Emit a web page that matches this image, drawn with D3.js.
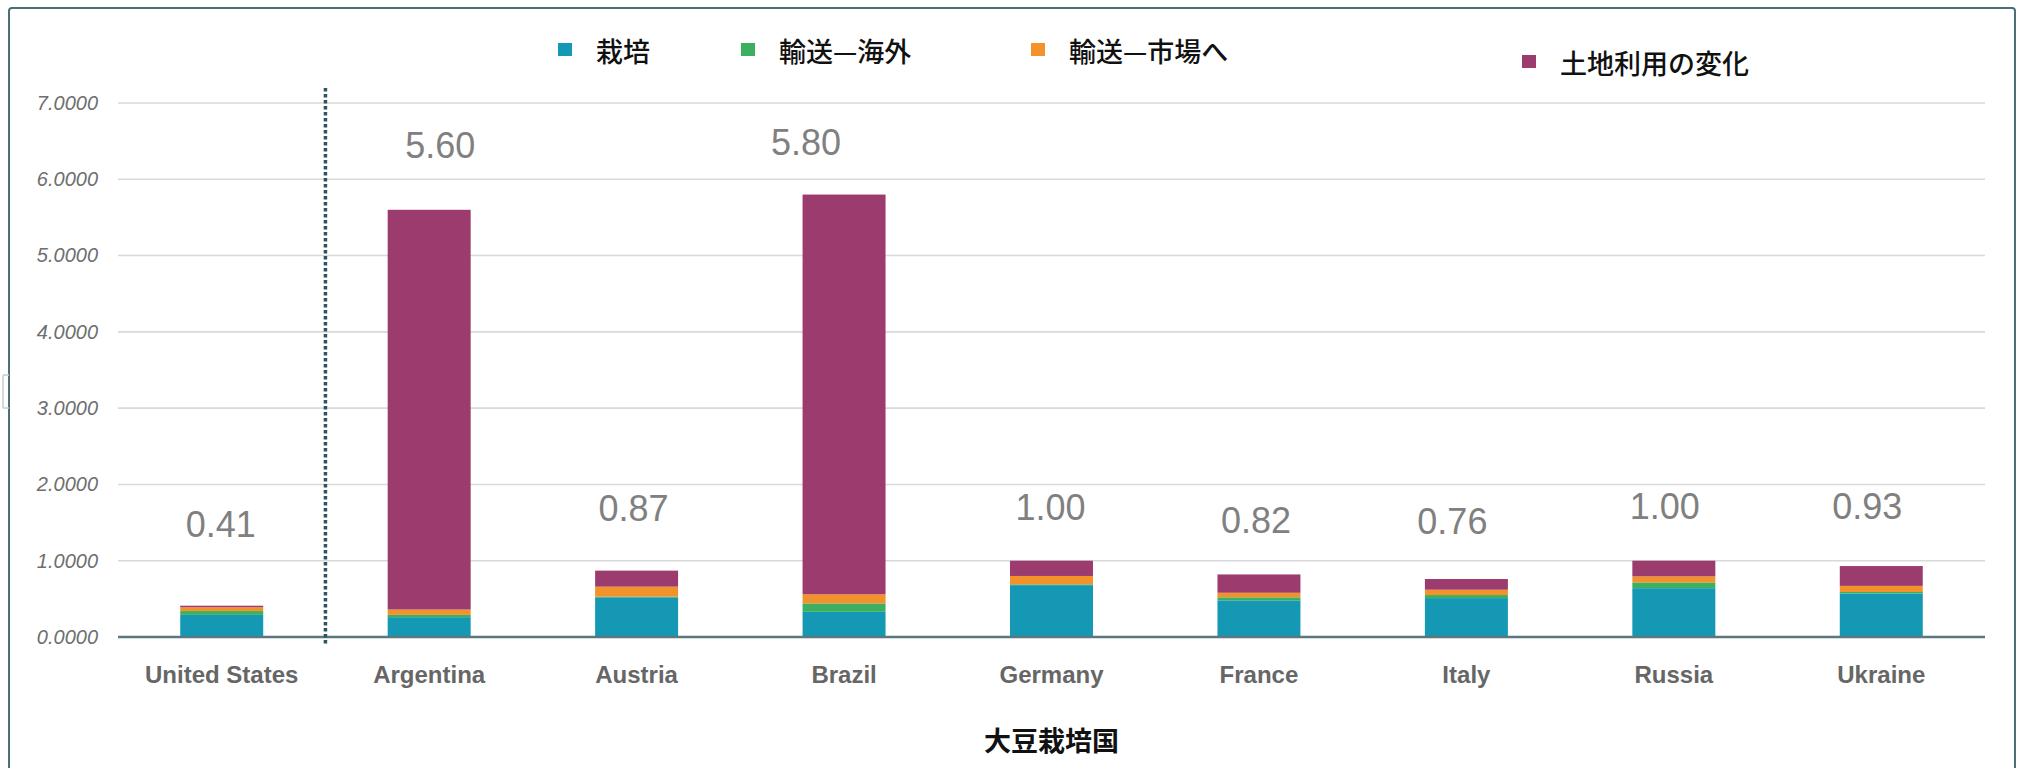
<!DOCTYPE html>
<html>
<head>
<meta charset="utf-8">
<script src="https://cdn.jsdelivr.net/npm/d3@7"></script>
<style>
  html, body { margin: 0; padding: 0; background: #ffffff; }
  svg { display: block; }
</style>
</head>
<body>
<svg id="chart" width="2018" height="768"></svg>
<script>
// Soybean footprint by producing country, stacked by source
const countries = ["United States", "Argentina", "Austria", "Brazil", "Germany", "France", "Italy", "Russia", "Ukraine"];
const seriesNames = ["栽培", "輸送—海外", "輸送—市場へ", "土地利用の変化"];
const cultivation   = [0.29, 0.26, 0.52, 0.33, 0.68, 0.48, 0.51, 0.64, 0.57];
const shipOverseas  = [0.05, 0.03, 0.01, 0.11, 0.01, 0.04, 0.04, 0.075, 0.02];
const shipToMarket  = [0.05, 0.07, 0.13, 0.12, 0.11, 0.06, 0.07, 0.08, 0.08];
const landUseChange = [0.02, 5.24, 0.21, 5.24, 0.20, 0.24, 0.14, 0.205, 0.26];
const totalLabels   = ["0.41", "5.60", "0.87", "5.80", "1.00", "0.82", "0.76", "1.00", "0.93"];
const yTicks = [0, 1, 2, 3, 4, 5, 6, 7];
const axisTitle = "大豆栽培国";

// label placement nudges (dx from band centre, dy above the bar top)
const labelNudge = [[-1, -69], [11, -52], [-3, -50], [-38, -40], [-1, -41], [-3, -41], [-14, -45], [-9, -42], [-14, -47]];

const colors = ["#1598b4", "#3daf61", "#f3912a", "#9b3b6e"];

const svg = d3.select("#chart");

const x = d3.scaleBand()
  .domain(countries)
  .range([118, 1985])
  .paddingInner(0.6)
  .paddingOuter(0.3);

const y = d3.scaleLinear().domain([0, 7]).range([637, 103]);

const color = d3.scaleOrdinal().domain(seriesNames).range(colors);

// frame
svg.append("rect")
  .attr("x", 9).attr("y", 8)
  .attr("width", 2006).attr("height", 800)
  .attr("rx", 3)
  .attr("fill", "#ffffff")
  .attr("stroke", "#4d6e76")
  .attr("stroke-width", 2);

// small tab on the left edge
svg.append("path")
  .attr("d", "M3,375 L9,375 M3,408 L9,408 M3,375 L3,408")
  .attr("fill", "none")
  .attr("stroke", "#c8cdd0")
  .attr("stroke-width", 1.5);

// gridlines + y labels
svg.append("g")
  .selectAll("line")
  .data(yTicks.filter(d => d > 0))
  .join("line")
  .attr("x1", 118).attr("x2", 1985)
  .attr("y1", d => y(d)).attr("y2", d => y(d))
  .attr("stroke", "#d9d9d9")
  .attr("stroke-width", 1.6);

const yAxis = d3.axisLeft(y).tickValues(yTicks).tickFormat(d3.format(".4f")).tickSize(0).tickPadding(0);
const yg = svg.append("g").attr("transform", "translate(98,0)").call(yAxis);
yg.select(".domain").remove();
yg.selectAll("text")
  .attr("font-family", "'Liberation Sans', Arial, sans-serif")
  .attr("font-style", "italic")
  .attr("font-size", 20)
  .attr("fill", "#6e6e6e");

// stacked bars
const rows = countries.map((c, i) => ({
  country: c,
  [seriesNames[0]]: cultivation[i],
  [seriesNames[1]]: shipOverseas[i],
  [seriesNames[2]]: shipToMarket[i],
  [seriesNames[3]]: landUseChange[i]
}));
const stacked = d3.stack().keys(seriesNames)(rows);

svg.append("g")
  .selectAll("g")
  .data(stacked)
  .join("g")
  .attr("fill", d => color(d.key))
  .selectAll("rect")
  .data(d => d)
  .join("rect")
  .attr("x", d => x(d.data.country))
  .attr("width", x.bandwidth())
  .attr("y", d => y(d[1]))
  .attr("height", d => y(d[0]) - y(d[1]));

// x axis
const xAxis = d3.axisBottom(x).tickSize(0).tickPadding(0);
const xg = svg.append("g").attr("transform", "translate(0,637)").call(xAxis);
xg.select(".domain").remove();
xg.selectAll("text")
  .attr("dy", null)
  .attr("y", 46)
  .attr("font-family", "'Liberation Sans', Arial, sans-serif")
  .attr("font-weight", "bold")
  .attr("font-size", 24)
  .attr("fill", "#666666");
svg.append("line")
  .attr("x1", 118).attr("x2", 1985)
  .attr("y1", y(0)).attr("y2", y(0))
  .attr("stroke", "#5b7880")
  .attr("stroke-width", 2.5);

// dotted separator after the first country
const sepX = (x("United States") + x.bandwidth() + x("Argentina")) / 2;
svg.append("line")
  .attr("x1", sepX).attr("x2", sepX)
  .attr("y1", 88).attr("y2", 645)
  .attr("stroke", "#2d5560")
  .attr("stroke-width", 3.5)
  .attr("stroke-dasharray", "3.5,2.5");

// total labels
const totals = countries.map((c, i) => cultivation[i] + shipOverseas[i] + shipToMarket[i] + landUseChange[i]);
svg.append("g")
  .selectAll("text")
  .data(countries)
  .join("text")
  .attr("x", (c, i) => x(c) + x.bandwidth() / 2 + labelNudge[i][0])
  .attr("y", (c, i) => y(totals[i]) + labelNudge[i][1])
  .attr("text-anchor", "middle")
  .attr("font-family", "'Liberation Sans', Arial, sans-serif")
  .attr("font-size", 36)
  .attr("fill", "#808080")
  .text((c, i) => totalLabels[i]);

// legend
const legendPos = [[558, 43], [741, 43], [1031, 43], [1522, 55]];
const lg = svg.append("g")
  .selectAll("g")
  .data(seriesNames)
  .join("g")
  .attr("transform", (d, i) => `translate(${legendPos[i][0]},${legendPos[i][1]})`);
lg.append("rect")
  .attr("width", 14).attr("height", 13)
  .attr("fill", d => color(d));
lg.append("text")
  .attr("x", 38).attr("y", 7)
  .attr("dominant-baseline", "central")
  .attr("font-family", "'Noto Sans CJK JP', sans-serif")
  .attr("font-weight", 500)
  .attr("font-size", 27)
  .attr("fill", "#111111")
  .text(d => d);

// axis title
svg.append("text")
  .attr("x", (x.range()[0] + x.range()[1]) / 2)
  .attr("y", 739)
  .attr("text-anchor", "middle")
  .attr("dominant-baseline", "central")
  .attr("font-family", "'Noto Sans CJK JP', sans-serif")
  .attr("font-weight", 700)
  .attr("font-size", 27)
  .attr("fill", "#111111")
  .text(axisTitle);
</script>
</body>
</html>
